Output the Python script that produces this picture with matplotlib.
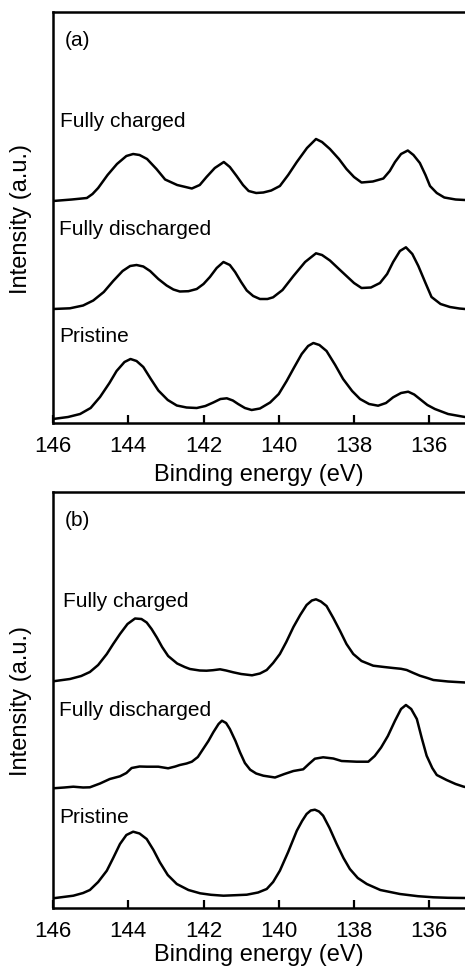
import numpy as np
import matplotlib
matplotlib.use("Agg")
import matplotlib.pyplot as plt

plt.rcParams['font.family'] = ['Liberation Sans', 'DejaVu Sans']

# ---- panel (a) spectra (energy in eV, intensity a.u.) ----
a_charged_E = [146.0, 145.5, 145.1, 144.95, 144.8, 144.55, 144.3, 144.05, 143.87, 143.7, 143.5,
               143.25, 143.02, 142.7, 142.31, 142.1, 141.92, 141.7, 141.46, 141.3, 141.12,
               140.95, 140.8, 140.6, 140.41, 140.2, 139.97, 139.75, 139.52, 139.25, 139.01,
               138.85, 138.64, 138.4, 138.2, 138.0, 137.8, 137.5, 137.22, 137.05, 136.91,
               136.75, 136.57, 136.42, 136.25, 136.1, 135.98, 135.8, 135.6, 135.3, 135.05]
a_charged_I = [1, 2.5, 4, 8, 14, 27, 38, 46, 48, 47, 43,
               33, 22.5, 17, 13.5, 17, 25, 34, 40, 35, 26,
               17, 11, 9, 9.5, 11.5, 16, 27, 40, 54, 63,
               60, 53, 43, 33, 25, 19.5, 20.5, 23.5, 31, 40,
               48, 51.5, 47, 39, 27, 16, 9, 4.5, 2.5, 2]

a_dis_E = [146.0, 145.55, 145.2, 144.93, 144.65, 144.4, 144.15, 143.95, 143.78, 143.6,
           143.42, 143.2, 142.98, 142.8, 142.63, 142.4, 142.18, 142.0, 141.83, 141.65,
           141.47, 141.3, 141.16, 141.0, 140.85, 140.68, 140.5, 140.3, 140.15, 139.9,
           139.61, 139.3, 139.01, 138.85, 138.64, 138.4, 138.2, 138.0, 137.8, 137.55,
           137.31, 137.12, 136.96, 136.78, 136.62, 136.45, 136.29, 136.1, 135.94, 135.7,
           135.45, 135.2, 135.05]
a_dis_I = [1, 1.7, 4.5, 9.5, 18, 29, 39, 44, 45, 43.5,
           39, 31, 24.5, 20.5, 18.5, 18.8, 21, 26, 33, 42,
           48, 45, 38, 28, 19.5, 14, 11, 11, 12.7, 20,
           34, 48, 56.7, 55, 49.5, 41, 34, 27, 22, 22.5,
           27, 36, 48, 59, 62.7, 56, 44, 27, 13, 6,
           3, 1.5, 1]

a_pri_E = [146.0, 145.6, 145.28, 145.0, 144.75, 144.5, 144.31, 144.1, 143.94, 143.78,
           143.6, 143.4, 143.2, 142.95, 142.71, 142.45, 142.18, 141.95, 141.74, 141.55,
           141.38, 141.22, 141.08, 140.9, 140.72, 140.5, 140.23, 140.0, 139.79, 139.6,
           139.39, 139.22, 139.08, 138.92, 138.73, 138.5, 138.29, 138.05, 137.84, 137.6,
           137.36, 137.15, 136.96, 136.75, 136.56, 136.4, 136.25, 136.05, 135.85, 135.5,
           135.1, 135.05]
a_pri_I = [1, 3, 6, 12, 23, 37, 49, 58, 61, 59,
           53, 41, 29.5, 20, 14.5, 12.5, 12, 14, 17.5, 21,
           21.7, 19.5, 16, 12, 10, 11.5, 17.5, 26, 39, 52,
           66, 74, 77, 75, 69, 55, 41, 29, 21, 16,
           14.3, 17, 22.7, 27, 28.3, 25.5, 21, 15, 11, 6,
           3.3, 3]

# ---- panel (b) spectra ----
b_charged_E = [146.0, 145.55, 145.25, 145.02, 144.8, 144.57, 144.4, 144.22, 144.02, 143.82,
               143.65, 143.51, 143.38, 143.24, 143.1, 142.94, 142.7, 142.5, 142.36, 142.1,
               141.92, 141.75, 141.56, 141.4, 141.21, 141.0, 140.71, 140.5, 140.32, 140.15,
               139.97, 139.8, 139.61, 139.43, 139.26, 139.12, 139.01, 138.88, 138.73, 138.55,
               138.37, 138.2, 138.02, 137.8, 137.49, 137.2, 136.96, 136.75, 136.6, 136.42,
               136.25, 136.05, 135.89, 135.5, 135.05]
b_charged_I = [0.7, 3, 6, 10, 17, 28, 38, 48, 58, 63.5,
               63, 59.5, 53, 44.5, 35, 26, 18.5, 15, 13, 11.5,
               11.3, 11.8, 12.7, 11.5, 9.7, 8, 6.7, 8.5, 12, 19,
               28, 40, 55, 67, 77, 81.5, 82.7, 80.5, 76, 64,
               51, 38, 28, 21, 16.3, 15, 14, 13.2, 12, 9,
               6.3, 4, 2, 0.5, -0.5]

b_dis_E = [146.0, 145.7, 145.46, 145.2, 145.02, 144.75, 144.49, 144.22, 144.05, 143.91,
           143.7, 143.51, 143.2, 142.94, 142.75, 142.63, 142.45, 142.31, 142.15, 142.01,
           141.87, 141.74, 141.6, 141.51, 141.4, 141.3, 141.15, 141.03, 140.9, 140.76,
           140.6, 140.41, 140.1, 139.85, 139.61, 139.35, 139.2, 139.04, 138.82, 138.55,
           138.33, 137.93, 137.62, 137.45, 137.28, 137.1, 136.91, 136.75, 136.62, 136.48,
           136.33, 136.2, 136.07, 135.92, 135.8, 135.54, 135.3, 135.1, 135.05]
b_dis_I = [1.7, 2.5, 3.3, 2.5, 2.7, 6.5, 11, 13.7, 17, 22,
           23.5, 23.3, 23.3, 21.7, 23.5, 25, 26.5, 28.3, 33, 41,
           49, 57.7, 66, 69.3, 67, 61, 49, 37.7, 27, 20.3,
           16.5, 14.3, 12.5, 16, 19, 20.7, 26, 31.3, 32.7, 31.5,
           29, 28.3, 28.3, 34, 42.5, 54, 69.3, 81, 85, 81,
           71, 52, 34.3, 22, 15, 10, 6, 3.5, 3]

b_pri_E = [146.0, 145.46, 145.2, 145.02, 144.8, 144.57, 144.4, 144.22, 144.05, 143.87,
           143.7, 143.51, 143.33, 143.16, 142.95, 142.71, 142.4, 142.09, 141.8, 141.47,
           141.15, 140.85, 140.55, 140.32, 140.15, 139.97, 139.75, 139.52, 139.38, 139.26,
           139.15, 139.04, 138.93, 138.82, 138.65, 138.46, 138.28, 138.11, 137.9, 137.66,
           137.3, 136.78, 136.3, 135.89, 135.5, 135.05]
b_pri_I = [1.7, 4.3, 7, 10, 18, 29.3, 42, 56, 65, 68.3,
           66.5, 61, 50, 37.7, 25, 16, 10, 6.7, 5.2, 4.3,
           4.8, 5.3, 7.5, 11, 18, 29.3, 48, 69.3, 79, 86,
           89.5, 90.3, 88.5, 84.3, 72, 56, 42, 31, 22, 16,
           10, 6, 3.8, 2.7, 2.2, 2]

labels = ["Pristine", "Fully discharged", "Fully charged"]
offsets = [0, 110, 218]
xticks = [146, 144, 142, 140, 138, 136]

panels = [
    ("(a)", [(a_pri_E, a_pri_I), (a_dis_E, a_dis_I), (a_charged_E, a_charged_I)]),
    ("(b)", [(b_pri_E, b_pri_I), (b_dis_E, b_dis_I), (b_charged_E, b_charged_I)]),
]

W, H = 465, 970
fig = plt.figure(figsize=(W / 100, H / 100), dpi=100)

# axes boxes in pixels: left, top, bottom, y-limits, xlabel offset
boxes = [(53, 13, 424, (-3, 408), -0.098), (53, 493, 909, (-8, 408), -0.085)]
label_y = [[0.212, 0.474, 0.735], [0.219, 0.478, 0.738]]
label_x = [[0.015, 0.015, 0.017], [0.015, 0.015, 0.024]]

for k, (tag, curves) in enumerate(panels):
    left, top, bottom, ylim, xl_y = boxes[k]
    ax = fig.add_axes([left / W, 1 - bottom / H, (W - left) / W, (bottom - top) / H])
    for (E, I), off in zip(curves, offsets):
        ax.plot(E, np.array(I) + off, color='black', lw=1.8,
                solid_joinstyle='round', solid_capstyle='round')
    ax.set_xlim(146, 135.05)
    ax.set_ylim(*ylim)
    ax.set_yticks([])
    ax.set_xticks(xticks)
    ax.tick_params(axis='x', direction='in', length=6, width=1.6, labelsize=16, pad=9)
    for s in ['left', 'bottom', 'top']:
        ax.spines[s].set_linewidth(1.8)
    ax.spines['right'].set_visible(False)
    ax.set_xlabel("Binding energy (eV)", fontsize=17)
    ax.xaxis.set_label_coords(0.5, xl_y)
    ax.set_ylabel("Intensity (a.u.)", fontsize=17)
    ax.yaxis.set_label_coords(-0.05, 0.5)
    ax.text(0.029, 0.934, tag, transform=ax.transAxes, fontsize=15, va='center', ha='left')
    for name, lx, ly in zip(labels, label_x[k], label_y[k]):
        ax.text(lx, ly, name, transform=ax.transAxes, fontsize=15, va='center', ha='left')

fig.savefig("out.png", dpi=100)
